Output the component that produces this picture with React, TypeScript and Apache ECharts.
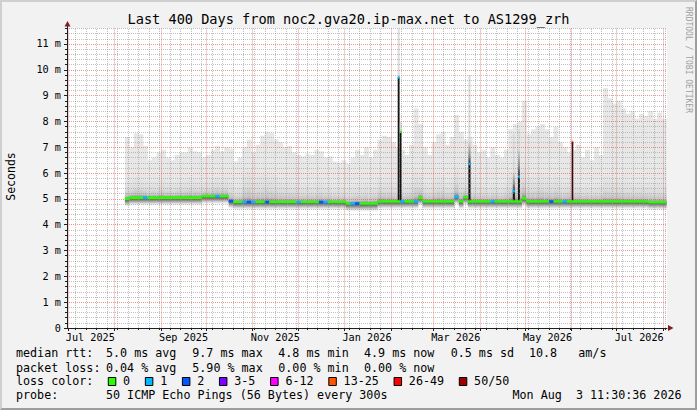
import React, { useEffect, useRef } from 'react';
import * as echarts from 'echarts';

// ---------------- data ----------------
const DAY = 86400000;
const rangeStart = Date.UTC(2025, 5, 30, 12, 0);
const rangeEnd = Date.UTC(2026, 7, 3, 11, 30);

const titleText = 'Last 400 Days from noc2.gva20.ip-max.net to AS1299_zrh';
const yAxisName = 'Seconds';
const watermark = 'RRDTOOL / TOBI OETIKER';

// smoke buckets: 3-day steps starting 2025-08-08
const bucketStart = '2025-08-08';
const bucketDays = 3;

const medianRtt = [
  5.00, 5.05, 5.05, 5.05, 5.05, 5.05, 5.05, 5.05, 5.05, 5.05,
  5.05, 5.05, 5.05, 5.05, 5.05, 5.05, 5.05, 5.10, 5.10, 5.10,
  5.10, 5.10, 5.10, 4.92, 4.88, 4.88, 4.88, 4.88, 4.88, 4.88,
  4.88, 4.88, 4.88, 4.88, 4.88, 4.88, 4.88, 4.88, 4.88, 4.88,
  4.88, 4.88, 4.88, 4.88, 4.88, 4.88, 4.88, 4.88, 4.88, 4.82,
  4.82, 4.82, 4.82, 4.82, 4.82, 4.82, 4.90, 4.90, 4.90, 4.90,
  4.90, 4.90, 4.90, 4.90, 4.90, 5.04, 4.90, 4.90, 4.90, 4.90,
  4.90, 4.90, 4.90, 5.08, 4.90, 5.06, 4.90, 4.90, 4.90, 4.90,
  4.90, 4.90, 4.90, 4.90, 4.90, 4.90, 4.90, 4.90, 5.02, 4.90,
  4.90, 4.90, 4.90, 4.90, 4.90, 4.90, 4.90, 4.90, 4.90, 4.90,
  4.90, 4.90, 4.90, 4.90, 4.90, 4.90, 4.90, 4.90, 4.90, 4.90,
  4.90, 4.90, 4.90, 4.90, 4.90, 4.90, 4.87, 4.87, 4.87, 4.87,
];

const denseTop = [
  5.7, 5.75, 5.9, 5.85, 5.75, 5.65, 5.7, 5.75, 5.8, 5.7,
  5.65, 5.7, 5.75, 5.75, 5.85, 5.8, 5.75, 5.7, 5.75, 5.8,
  5.9, 5.8, 5.85, 5.7, 5.5, 5.55, 6.1, 6.2, 5.75, 5.9,
  6.0, 6.1, 6.0, 5.9, 5.8, 5.7, 5.75, 5.65, 5.6, 5.6,
  5.65, 5.6, 5.7, 5.75, 5.6, 5.6, 5.5, 5.5, 5.55, 5.45,
  5.55, 5.65, 5.6, 5.7, 5.55, 5.65, 5.9, 5.8, 5.8, 5.7,
  5.7, 5.65, 5.6, 5.75, 6.2, 6.0, 5.7, 5.6, 5.75, 5.9,
  5.9, 5.7, 5.8, 6.3, 5.9, 5.8, 5.8, 5.7, 5.6, 5.6,
  5.5, 5.65, 5.6, 5.55, 5.7, 6.1, 6.3, 6.2, 6.4, 5.9,
  5.9, 6.0, 6.0, 5.9, 5.8, 6.0, 5.8, 5.7, 5.8, 5.7,
  5.7, 5.55, 5.6, 5.5, 5.6, 5.6, 5.9, 5.85, 5.8, 5.8,
  5.75, 5.7, 5.7, 5.65, 5.7, 5.65, 5.7, 5.65, 5.7, 5.65,
];

const smokeTop = [
  7.4, 7.0, 7.55, 7.5, 7.05, 6.5, 6.6, 6.8, 6.9, 6.6,
  6.5, 6.7, 6.8, 6.8, 7.0, 6.85, 6.8, 6.6, 6.7, 6.9,
  7.05, 6.85, 7.0, 6.95, 6.45, 6.6, 7.0, 7.3, 6.8, 7.1,
  7.45, 7.6, 7.55, 7.3, 7.2, 7.0, 7.05, 6.8, 6.7, 6.65,
  6.75, 6.7, 6.9, 6.85, 6.6, 6.65, 6.45, 6.4, 6.5, 6.35,
  6.6, 6.9, 6.7, 7.0, 6.6, 6.9, 7.3, 7.45, 7.4, 7.2,
  7.0, 6.9, 6.7, 7.1, 8.5, 7.9, 7.0, 6.7, 7.2, 7.5,
  7.6, 7.1, 7.4, 8.25, 7.6, 7.3, 7.4, 7.1, 6.8, 6.9,
  6.6, 7.0, 6.7, 6.6, 6.9, 7.7, 7.9, 8.0, 8.8, 7.5,
  7.7, 7.8, 7.9, 7.7, 7.4, 7.8, 7.2, 7.0, 6.8, 6.9,
  7.1, 6.6, 6.9, 6.5, 7.0, 6.7, 9.3, 8.9, 8.7, 8.8,
  8.5, 8.3, 8.4, 8.1, 8.3, 8.2, 8.4, 8.1, 8.35, 8.1,
];

const lossIdx = [
  0, 0, 0, 0, 1, 0, 0, 0, 0, 0,
  0, 0, 0, 0, 0, 0, 0, 0, 0, 0,
  1, 0, 0, 2, 0, 0, 1, 2, 1, 0,
  0, 2, 0, 0, 0, 0, 0, 0, 1, 0,
  0, 0, 0, 2, 1, 0, 0, 0, 0, 0,
  1, 2, 0, 0, 0, 0, 0, 0, 0, 0,
  0, 1, 0, 0, 1, 0, 0, 0, 0, 0,
  0, 0, 0, 1, 0, 0, 0, 0, 0, 0,
  0, 1, 0, 0, 0, 0, 0, 0, 0, 0,
  0, 0, 0, 0, 2, 0, 0, 1, 0, 0,
  0, 0, 0, 0, 0, 0, 0, 0, 0, 0,
  0, 0, 0, 0, 0, 0, 0, 0, 0, 0,
];

// short latency spikes
const spikeTimes = ['2026-02-05T10:00:00Z', '2026-02-06T20:00:00Z', '2026-03-24T10:00:00Z', '2026-04-22T22:00:00Z', '2026-04-26T10:00:00Z', '2026-06-01T02:00:00Z'];
const spikeHours = [30, 28, 34, 34, 30, 26];
const spikeBase = [4.92, 4.92, 4.9, 4.9, 4.9, 4.9];
const spikeMedian = [9.7, 7.6, 6.35, 5.3, 5.87, 7.17];
const spikeDense = [9.7, 7.6, 7.2, 6.0, 6.9, 7.17];
const spikeTop = [11.7, 8.0, 9.8, 7.5, 7.7, 7.3];
const spikeLoss = [1, 0, 1, 1, 1, 7];

// axes
const monthLines = ['2025-07-01', '2025-08-01', '2025-09-01', '2025-10-01', '2025-11-01', '2025-12-01', '2026-01-01', '2026-02-01', '2026-03-01', '2026-04-01', '2026-05-01', '2026-06-01', '2026-07-01', '2026-08-01'];
const xLabelDates = ['2025-07-16', '2025-09-16', '2025-11-16', '2026-01-16', '2026-03-16', '2026-05-16', '2026-07-16'];
const xLabelTexts = ['Jul 2025', 'Sep 2025', 'Nov 2025', 'Jan 2026', 'Mar 2026', 'May 2026', 'Jul 2026'];
const firstWeekLine = '2025-07-06';
const yTickValues = [0, 1, 2, 3, 4, 5, 6, 7, 8, 9, 10, 11];
const yTickLabels = ['0', '1 m', '2 m', '3 m', '4 m', '5 m', '6 m', '7 m', '8 m', '9 m', '10 m', '11 m'];
const yMax = 11.6;

// legend
const rttRow = ['median rtt:', '5.0 ms avg', '9.7 ms max', '4.8 ms min', '4.9 ms now', '0.5 ms sd', '10.8', 'am/s'];
const lossRow = ['packet loss:', '0.04 % avg', '5.90 % max', '0.00 % min', '0.00 % now'];
const lossHeading = 'loss color:';
const lossLabels = ['0', '1', '2', '3-5', '6-12', '13-25', '26-49', '50/50'];
const lossColors = ['#26ff00', '#00b8ff', '#0059ff', '#7e00ff', '#ff00ff', '#ff5500', '#ff0000', '#a10000'];
const probeRow = ['probe:', '50 ICMP Echo Pings (56 Bytes) every 300s'];
const stampParts = ['Mon Aug', '3 11:30:36 2026'];

// ---------------- option ----------------
const FONT = 'DejaVu Sans Mono';

function grad(stops: [number, string][]) {
  return {
    type: 'linear', x: 0, y: 0, x2: 0, y2: 1,
    colorStops: stops.map(([offset, color]) => ({ offset, color })),
  };
}

function buildOption() {
  const b0 = Date.parse(bucketStart);
  const smokeData = medianRtt.map((m, i) => [
    b0 + i * bucketDays * DAY,
    b0 + (i + 1) * bucketDays * DAY,
    m, denseTop[i], smokeTop[i], lossIdx[i],
  ]);
  const spikeData = spikeTimes.map((s, i) => {
    const t = Date.parse(s);
    return [t, t + spikeHours[i] * 3600000, spikeBase[i], spikeMedian[i], spikeDense[i], spikeTop[i], spikeLoss[i]];
  });

  const monthVals = monthLines.map((d) => Date.parse(d));
  const weekVals: number[] = [];
  for (let t = Date.parse(firstWeekLine + 'T00:00:00Z'); t < rangeEnd; t += 7 * DAY) {
    if (!monthVals.some((m) => Math.abs(m - t) < DAY / 2)) weekVals.push(t);
  }
  const labelVals = xLabelDates.map((d) => Date.parse(d));
  const minorY: number[] = [];
  for (let k = 1; k * 0.2 <= yMax + 1e-9; k++) if (k % 5 !== 0) minorY.push(Math.round(k * 2) / 10);

  const majorLine = { color: 'rgba(222,79,79,0.6)', type: [1, 1] as number[], width: 1 };
  const minorColor = 'rgba(143,143,143,0.55)';
  const minorLine = { color: minorColor, type: [1, 1] as number[], width: 1 };
  const axisCol = '#1f1f1f';

  const base = { type: 'value', min: rangeStart, max: rangeEnd, position: 'bottom', z: 3 };

  const graphics: any[] = [];
  const txt = (text: string, x: number, y: number, size: number, extra: any = {}) => ({
    type: 'text', x, y, z: 50, silent: true,
    style: { text, fill: '#000', fontFamily: FONT, fontSize: size, align: 'left', verticalAlign: 'middle', ...(extra.style || {}) },
    ...(extra.el || {}),
  });

  graphics.push(txt(titleText, 348.5, 19.3, 13.6, { style: { align: 'center' } }));
  graphics.push(txt(yAxisName, 11, 176.5, 11.5, { style: { align: 'center' }, el: { rotation: Math.PI / 2 } }));
  graphics.push(txt(watermark, 688, 60, 8, { style: { align: 'center', fill: '#a0a0a0' }, el: { rotation: -Math.PI / 2 } }));

  const LF = 11.7;
  const rowY = [353.3, 367.6, 381, 395.3];
  const cols = [16, 106, 192.3, 278.3, 364, 450.7, 529, 578.3];
  rttRow.forEach((s, i) => graphics.push(txt(s, cols[i], rowY[0], LF)));
  lossRow.forEach((s, i) => graphics.push(txt(s, cols[i], rowY[1], LF)));
  graphics.push(txt(lossHeading, cols[0], rowY[2], LF));
  const charW = 7.05;
  let bx = 108.3;
  lossLabels.forEach((lab, i) => {
    graphics.push({
      type: 'rect', z: 50, silent: true,
      shape: { x: bx, y: 377.5, width: 7.5, height: 8 },
      style: { fill: lossColors[i], stroke: '#000', lineWidth: 1 },
    });
    graphics.push(txt(lab, bx + 14.8, rowY[2], LF));
    bx = bx + 15.4 + lab.length * charW + 14.6;
  });
  graphics.push(txt(probeRow[0], cols[0], rowY[3], LF));
  graphics.push(txt(probeRow[1], cols[1], rowY[3], LF));
  graphics.push(txt(stampParts[0], 512.5, rowY[3], LF));
  graphics.push(txt(stampParts[1], 512.5 + 9 * charW, rowY[3], LF));

  // axis arrows
  graphics.push({ type: 'line', z: 40, silent: true, shape: { x1: 67.5, y1: 28.5, x2: 67.5, y2: 25 }, style: { stroke: axisCol, lineWidth: 1 } });
  graphics.push({ type: 'polygon', z: 41, silent: true, shape: { points: [[64.5, 26.5], [70.5, 26.5], [67.5, 21]] }, style: { fill: '#801f1f' } });
  graphics.push({ type: 'polygon', z: 41, silent: true, shape: { points: [[668, 325], [668, 331], [673.5, 328]] }, style: { fill: '#801f1f' } });

  return {
    animation: false,
    backgroundColor: '#f2f2f2',
    textStyle: { fontFamily: FONT },
    grid: {
      left: 67, top: 28.5, width: 600, height: 299.5,
      show: true, backgroundColor: '#ffffff', borderWidth: 0,
      containLabel: false, outerBoundsMode: 'none',
    },
    xAxis: [
      {
        ...base,
        axisLine: { show: true, lineStyle: { color: axisCol, width: 1 } },
        axisTick: { show: true, length: 3, customValues: monthVals, lineStyle: { color: axisCol } },
        axisLabel: { show: false },
        splitLine: { show: true, lineStyle: majorLine },
      },
      {
        ...base,
        axisLine: { show: false },
        axisTick: { show: true, length: 2, customValues: weekVals, lineStyle: { color: axisCol } },
        axisLabel: { show: false },
        splitLine: { show: false },
      },
      {
        ...base,
        axisLine: { show: false },
        axisTick: { show: false },
        splitLine: { show: false },
        axisLabel: {
          show: true, customValues: labelVals, margin: 4,
          fontFamily: FONT, fontSize: 10.2, color: '#000',
          formatter: (v: number) => {
            const i = labelVals.findIndex((t) => Math.abs(t - v) < DAY);
            return i >= 0 ? xLabelTexts[i] : '';
          },
        },
      },
    ],
    yAxis: [
      {
        type: 'value', min: 0, max: yMax, interval: 1, position: 'left', z: 3,
        axisLine: { show: true, lineStyle: { color: axisCol, width: 1 } },
        axisTick: { show: true, length: 3, customValues: yTickValues, lineStyle: { color: axisCol } },
        axisLabel: {
          show: true, customValues: yTickValues, margin: 6,
          fontFamily: FONT, fontSize: 10.2, color: '#000',
          formatter: (v: number) => {
            const i = yTickValues.findIndex((t) => Math.abs(t - v) < 1e-6);
            return i >= 0 ? yTickLabels[i] : '';
          },
        },
        splitLine: { show: true, lineStyle: majorLine },
      },
      {
        type: 'value', min: 0, max: yMax, position: 'left', z: 3,
        axisLine: { show: false },
        axisTick: { show: true, length: 2, customValues: minorY, lineStyle: { color: axisCol } },
        axisLabel: { show: false },
        splitLine: { show: true, lineStyle: minorLine },
      },
    ],
    series: [
      {
        type: 'custom', name: 'smoke', z: 2, clip: true,
        xAxisIndex: 0, yAxisIndex: 0,
        encode: { x: [0, 1], y: [2, 3, 4] },
        data: smokeData,
        renderItem: (params: any, api: any) => {
          const t0 = api.value(0), t1 = api.value(1);
          const med = api.value(2), dense = api.value(3), top = api.value(4);
          const p0 = api.coord([t0, med]);
          const p1 = api.coord([t1, med]);
          const x = p0[0];
          const w = p1[0] - p0[0] + 0.4;
          const yMed = p0[1];
          const yDense = api.coord([t0, dense])[1];
          const yTop = api.coord([t0, top])[1];
          return {
            type: 'group',
            children: [
              { type: 'rect', shape: { x, y: yTop, width: w, height: yMed - yTop }, style: { fill: '#e7e7e7' } },
              {
                type: 'rect', shape: { x, y: yDense, width: w, height: yMed - yDense },
                style: { fill: grad([[0, '#e6e6e6'], [0.55, '#dbdbdb'], [0.85, '#c2c2c2'], [1, '#808080']]) },
              },
              {
                type: 'rect', shape: { x, y: yMed, width: w, height: 9 },
                style: { fill: grad([[0, '#3c3c3c'], [0.3, '#8a8a8a'], [0.6, '#d2d2d2'], [1, 'rgba(255,255,255,0)']]) },
              },
            ],
          };
        },
      },
      {
        type: 'custom', name: 'spikes', z: 2.5, clip: true,
        xAxisIndex: 0, yAxisIndex: 0,
        encode: { x: [0, 1], y: [2, 3, 4, 5] },
        data: spikeData,
        renderItem: (params: any, api: any) => {
          const t0 = api.value(0), t1 = api.value(1);
          const b = api.value(2), med = api.value(3), dense = api.value(4), top = api.value(5), loss = api.value(6);
          const pb = api.coord([t0, b]);
          const x1 = api.coord([t1, b])[0];
          const x = pb[0];
          const w = x1 - x;
          const yMed = api.coord([t0, med])[1];
          const yDense = api.coord([t0, dense])[1];
          const yTop = api.coord([t0, top])[1];
          return {
            type: 'group',
            children: [
              { type: 'rect', shape: { x, y: yTop, width: w, height: yMed - yTop }, style: { fill: '#dadada' } },
              {
                type: 'rect', shape: { x, y: yDense, width: w, height: yMed - yDense },
                style: { fill: grad([[0, '#d6d6d6'], [0.6, '#8a8a8a'], [1, '#2a2a2a']]) },
              },
              {
                type: 'rect', shape: { x, y: yMed, width: w, height: pb[1] - yMed },
                style: { fill: loss === 7 ? '#3a0a0a' : '#151515' },
              },
            ],
          };
        },
      },
      {
        // weekly minor vertical grid drawn over the smoke
        type: 'line', name: 'weekGrid', z: 2.8, silent: true,
        xAxisIndex: 0, yAxisIndex: 0,
        data: [],
        markLine: {
          silent: true,
          animation: false,
          symbol: ['none', 'none'],
          label: { show: false },
          emphasis: { disabled: true },
          lineStyle: { color: minorColor, type: [1, 1], width: 1 },
          data: weekVals.map((t) => ({ xAxis: t })),
        },
      },
      {
        type: 'custom', name: 'median', z: 4, clip: true,
        xAxisIndex: 0, yAxisIndex: 0,
        encode: { x: [0, 1], y: 2 },
        data: smokeData,
        renderItem: (params: any, api: any) => {
          const p0 = api.coord([api.value(0), api.value(2)]);
          const p1 = api.coord([api.value(1), api.value(2)]);
          return {
            type: 'rect',
            shape: { x: p0[0], y: p0[1] - 1.3, width: p1[0] - p0[0] + 0.3, height: 2.6 },
            style: { fill: lossColors[api.value(5)] },
          };
        },
      },
      {
        type: 'custom', name: 'spikeMedian', z: 4, clip: true,
        xAxisIndex: 0, yAxisIndex: 0,
        encode: { x: [0, 1], y: 3 },
        data: spikeData,
        renderItem: (params: any, api: any) => {
          const p0 = api.coord([api.value(0), api.value(3)]);
          const p1 = api.coord([api.value(1), api.value(3)]);
          return {
            type: 'rect',
            shape: { x: p0[0], y: p0[1] - 1.3, width: p1[0] - p0[0], height: 2.6 },
            style: { fill: lossColors[api.value(6)] },
          };
        },
      },
    ],
    graphic: graphics,
  };
}

export default function App() {
  const ref = useRef<HTMLDivElement>(null);
  useEffect(() => {
    document.body.style.margin = '0';
    const chart = echarts.init(ref.current as HTMLDivElement, null, { renderer: 'svg' });
    chart.setOption(buildOption() as any);
    return () => chart.dispose();
  }, []);
  return (
    <div style={{ position: 'fixed', left: 0, top: 0, width: 697, height: 410, background: '#f2f2f2' }}>
      <div ref={ref} style={{ width: 697, height: 410 }} />
      <div
        style={{
          position: 'absolute', left: 0, top: 0, width: 697, height: 410, boxSizing: 'border-box',
          borderTop: '2px solid #cfcfcf', borderLeft: '2px solid #cfcfcf',
          borderRight: '2px solid #9e9e9e', borderBottom: '2px solid #9e9e9e',
          pointerEvents: 'none',
        }}
      />
    </div>
  );
}
